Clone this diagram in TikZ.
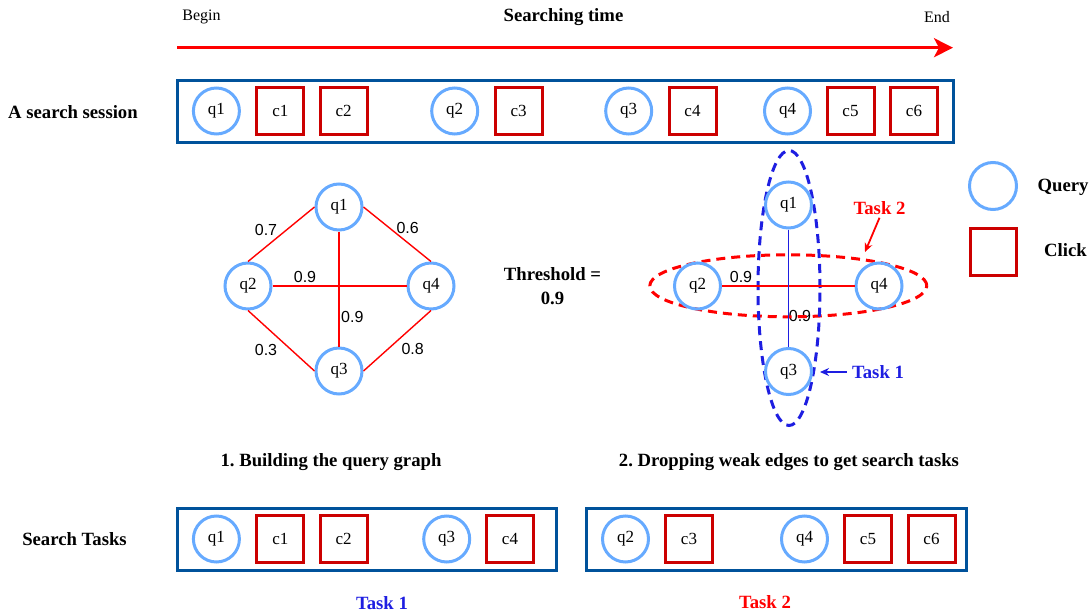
\documentclass[tikz,border=0pt]{standalone}
\usepackage{fontspec}
\setmainfont{Liberation Serif}
\setsansfont{Liberation Sans}
\usetikzlibrary{arrows.meta,shapes.geometric}
\frenchspacing

\definecolor{boxblue}{RGB}{0,82,155}
\definecolor{qblue}{RGB}{102,170,255}
\definecolor{cred}{RGB}{204,0,0}
\definecolor{tblue}{RGB}{30,30,225}

\tikzset{
  query/.style={circle, draw=qblue, line width=3pt, minimum size=46pt, inner sep=0pt,
    font=\fontsize{17}{19}\selectfont},
  click/.style={rectangle, draw=cred, line width=3pt, minimum size=47pt, inner sep=0pt,
    font=\fontsize{17}{19}\selectfont},
  seqbox/.style={rectangle, draw=boxblue, line width=3pt, inner sep=0pt, minimum height=62pt},
  boldlbl/.style={font=\fontsize{18.7}{22}\selectfont\bfseries, inner sep=0pt},
  plainlbl/.style={font=\fontsize{16}{19}\selectfont, inner sep=0pt},
  wlabel/.style={font=\sffamily\fontsize{16}{19}\selectfont, inner sep=0pt},
  gedge/.style={red, line width=1.4pt},
  bedge/.style={tblue, line width=1.4pt},
  taskell/.style={ellipse, line width=3pt, dash pattern=on 9pt off 6pt, inner sep=0pt},
}

\begin{document}
\begin{tikzpicture}[x=1pt, y=-1pt]
\useasboundingbox (0,0) rectangle (1090,615);

% timeline
\node[plainlbl] (begin) at (201.5,17) {Begin};
\node[boldlbl] (stime) at (563.5,17) {Searching time};
\node[plainlbl] (endl) at (937,17) {End};
\coordinate (tb) at (177,47.7);
\coordinate (te) at (953,47.7);
\draw[red, line width=3pt, -{Stealth[length=19pt,width=19pt,inset=5pt]}] (tb) -- (te);

% session
\node[boldlbl] (sesslbl) at (73,112) {A search session};
\node[seqbox, minimum width=776pt] (session) at (565.5,111.5) {};
\node[query] (sq1) at (216.4,111) {q1};
\node[click] (sc1) at (280.4,111) {c1};
\node[click] (sc2) at (343.7,111) {c2};
\node[query] (sq2) at (454.7,111) {q2};
\node[click] (sc3) at (518.6,111) {c3};
\node[query] (sq3) at (628.7,111) {q3};
\node[click] (sc4) at (692.5,111) {c4};
\node[query] (sq4) at (787.5,111) {q4};
\node[click] (sc5) at (850.5,111) {c5};
\node[click] (sc6) at (914,111) {c6};

% graph 1
\node[query] (g1) at (339,207) {q1};
\node[query] (g2) at (248,286) {q2};
\node[query] (g4) at (431,286) {q4};
\node[query] (g3) at (339,371) {q3};
\draw[gedge] (g2.north) -- (g1.west);
\draw[gedge] (g1.east) -- (g4.north);
\draw[gedge] (g2.south) -- (g3.west);
\draw[gedge] (g4.south) -- (g3.east);
\draw[gedge] (g2.east) -- (g4.west);
\draw[gedge] (g1.south) -- (g3.north);
\node[wlabel] (w12) at (266,230) {0.7};
\node[wlabel] (w14) at (407.7,228) {0.6};
\node[wlabel] (w24) at (305,277) {0.9};
\node[wlabel] (w13) at (352.3,317) {0.9};
\node[wlabel] (w23) at (266,350) {0.3};
\node[wlabel] (w43) at (412.7,348.5) {0.8};

% threshold
\node[boldlbl, align=center] (thr) at (552.5,286) {Threshold =\\[2pt]0.9};

% graph 2
\node[wlabel] (v24) at (741,277) {0.9};
\node[wlabel] (v13) at (800,316) {0.9};
\node[taskell, draw=red, minimum width=277pt, minimum height=62pt] (ell2) at (788.3,285.8) {};
\node[taskell, draw=tblue, minimum width=62pt, minimum height=275pt] (ell1) at (789,288) {};
\node[query] (h1) at (788.5,205) {q1};
\node[query] (h2) at (697.5,286) {q2};
\node[query] (h4) at (879,286) {q4};
\node[query] (h3) at (788.5,371.5) {q3};
\draw[gedge] (h2.east) -- (h4.west);
\draw[bedge] (h1.south) -- (h3.north);

\node[boldlbl, text=red] (t2lbl) at (879.5,208) {Task 2};
\coordinate (t2tip) at (865,252);
\draw[red, line width=1.8pt, -{Stealth[length=9pt,width=8pt]}] (t2lbl.south) ++(0,3) -- (t2tip);
\node[boldlbl, text=tblue] (t1lbl) at (878,372) {Task 1};
\coordinate (t1tip) at (820,372);
\draw[tblue, line width=1.4pt, -{Stealth[length=9pt,width=8pt]}] (t1lbl.west) ++(-5,0) -- (t1tip);

% legend
\node[query, minimum size=47pt] (lq) at (993,186) {};
\node[boldlbl] (lqt) at (1063,187) {Query};
\node[click, minimum size=46.5pt] (lc) at (993.5,252) {};
\node[boldlbl] (lct) at (1065.5,250) {Click};

% captions
\node[boldlbl] (cap1) at (331,462.5) {1. Building the query graph};
\node[boldlbl] (cap2) at (789,462.5) {2. Dropping weak edges to get search tasks};

% search tasks
\node[boldlbl] (stlbl) at (74.5,539.5) {Search Tasks};
\node[seqbox, minimum width=379.3pt] (task1box) at (367.2,539.5) {};
\node[seqbox, minimum width=380.3pt] (task2box) at (776.7,539.5) {};
\node[query] (bq1) at (216.4,539) {q1};
\node[click] (bc1) at (280.4,539) {c1};
\node[click] (bc2) at (343.7,539) {c2};
\node[query] (bq3) at (446.7,539) {q3};
\node[click] (bc4) at (510,539) {c4};
\node[query] (bq2) at (625.5,539) {q2};
\node[click] (bc3) at (689,539) {c3};
\node[query] (bq4) at (804.5,539) {q4};
\node[click] (bc5) at (868,539) {c5};
\node[click] (bc6) at (931.5,539) {c6};
\node[boldlbl, text=tblue] (task1lbl) at (382,603) {Task 1};
\node[boldlbl, text=red] (task2lbl) at (765,602) {Task 2};
\end{tikzpicture}
\end{document}
